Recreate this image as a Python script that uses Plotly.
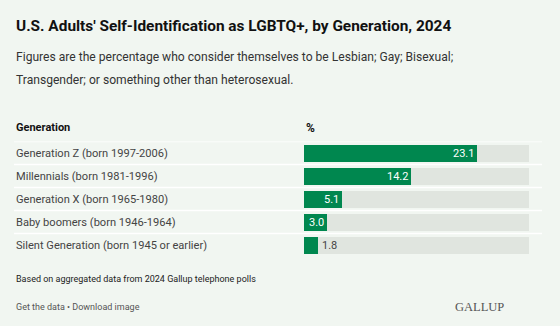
import plotly.graph_objects as go

categories = [
    "Generation Z (born 1997-2006)",
    "Millennials (born 1981-1996)",
    "Generation X (born 1965-1980)",
    "Baby boomers (born 1946-1964)",
    "Silent Generation (born 1945 or earlier)",
]
values = [23.1, 14.2, 5.1, 3.0, 1.8]
track_max = 30

W, H = 560, 326
BG = "#f1f6f1"
GREEN = "#00874f"
TRACK = "#e0e5df"
FONT = "Roboto"

def py(p):
    return 1 - p / H

def px(p):
    return p / W

ys = list(range(len(categories)))

fig = go.Figure()
fig.add_trace(go.Bar(
    x=[track_max] * len(values), y=ys, orientation="h",
    marker=dict(color=TRACK, line=dict(width=0)), width=0.7,
    hoverinfo="skip", showlegend=False,
))
fig.add_trace(go.Bar(
    x=values, y=ys, orientation="h",
    marker=dict(color=GREEN, line=dict(width=0)), width=0.7,
    showlegend=False,
))

annotations = []
for i, (c, v) in enumerate(zip(categories, values)):
    annotations.append(dict(
        x=px(14), xref="paper", y=i, yref="y", text=c, showarrow=False,
        xanchor="left", yanchor="middle",
        font=dict(family=FONT, size=11.1, color="#444444"),
    ))
    inside = v >= 2.5
    annotations.append(dict(
        x=v, xref="x", y=i, yref="y", text=f"{v:.1f}", showarrow=False,
        xanchor="right" if inside else "left", xshift=-1 if inside else 2,
        yanchor="middle",
        font=dict(family=FONT, size=11, color="#ffffff" if inside else "#444444"),
    ))

texts = [
    ("<b>U.S. Adults' Self-Identification as LGBTQ+, by Generation, 2024</b>", 14, 26.5, 15.4, "#111111", "left", FONT),
    ("Figures are the percentage who consider themselves to be Lesbian; Gay; Bisexual;", 14, 57.5, 12.1, "#333333", "left", FONT),
    ("Transgender; or something other than heterosexual.", 14, 80, 12.1, "#333333", "left", FONT),
    ("<b>Generation</b>", 14, 127.5, 11, "#111111", "left", FONT),
    ("<b>%</b>", 304, 127.5, 12, "#111111", "left", FONT),
    ("Based on aggregated data from 2024 Gallup telephone polls", 14, 278.5, 9, "#222222", "left", FONT),
    ("Get the data • Download image", 14, 306.5, 9, "#555555", "left", FONT),
    ("GALLUP", 506, 306.5, 12.5, "#555555", "right", "Liberation Serif"),
]
for t, x, y, s, col, anc, fam in texts:
    annotations.append(dict(
        x=px(x), xref="paper", y=py(y), yref="paper", text=t, showarrow=False,
        xanchor=anc, yanchor="middle",
        font=dict(family=fam, size=s, color=col),
    ))

shapes = []
for i in range(len(categories)):
    shapes.append(dict(
        type="line", xref="paper", yref="y",
        x0=px(14), x1=px(542), y0=i - 0.5, y1=i - 0.5,
        line=dict(color="#ffffff", width=1.5), layer="above",
    ))

top, bottom = 141.5, 141.5 + 23 * len(categories)
fig.update_layout(
    width=W, height=H,
    margin=dict(l=0, r=0, t=0, b=0),
    paper_bgcolor=BG, plot_bgcolor=BG,
    barmode="overlay", bargap=0,
    xaxis=dict(domain=[px(304), px(529)], range=[0, track_max],
               showgrid=False, zeroline=False, showticklabels=False, fixedrange=True),
    yaxis=dict(domain=[py(bottom), py(top)], range=[len(categories) - 0.5, -0.5],
               showgrid=False, zeroline=False, showticklabels=False, fixedrange=True),
    annotations=annotations, shapes=shapes,
    font=dict(family=FONT),
)

fig.write_html("out.html")
